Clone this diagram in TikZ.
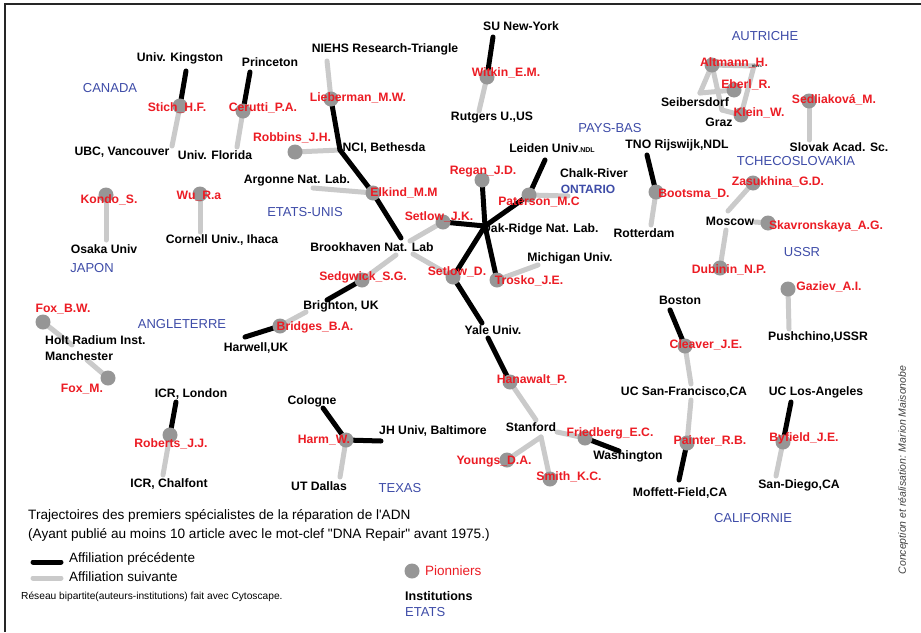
\documentclass[tikz,border=0pt]{standalone}
\usepackage{fontspec}
\setmainfont{Liberation Sans}[Ligatures=TeXOff]
\definecolor{ared}{RGB}{236,28,36}
\definecolor{cblue}{RGB}{62,76,168}
\definecolor{pgray}{RGB}{150,150,150}
\definecolor{egray}{RGB}{202,202,202}
\begin{document}
\begin{tikzpicture}[x=1pt,y=-1pt,
  pion/.style={circle, fill=pgray, minimum size=15pt, inner sep=0pt},
  prevedge/.style={draw=black, line width=5pt, line cap=round},
  nextedge/.style={draw=egray, line width=5pt, line cap=round},
  auth/.style={text=ared, font=\fontsize{12.2}{14}\selectfont\bfseries, inner sep=0pt},
  inst/.style={text=black, font=\fontsize{12.2}{14}\selectfont\bfseries, inner sep=0pt},
  ctry/.style={text=cblue, font=\fontsize{13}{15}\selectfont, inner sep=0pt},
  legtxt/.style={text=black, font=\fontsize{13.6}{15}\selectfont, inner sep=0pt, anchor=west}]
\useasboundingbox (0,0) rectangle (921,632);
\fill[white] (0,0) rectangle (921,632);
\draw[line width=2.5pt, black!85] (5,632) -- (5,4) -- (921,4);

% ---------- author circles (positions) ----------
\coordinate (stich) at (180,106);
\coordinate (cerutti) at (243,111);
\coordinate (lieberman) at (331,99);
\coordinate (robbins) at (295,152);
\coordinate (elkind) at (373,193);
\coordinate (setlowjk) at (443,222);
\coordinate (regan) at (482,180);
\coordinate (paterson) at (529,195);
\coordinate (setlowd) at (453,277);
\coordinate (trosko) at (497,280);
\coordinate (sedgwick) at (362,280);
\coordinate (bridges) at (280,326);
\coordinate (foxbw) at (43,322);
\coordinate (foxm) at (108,378);
\coordinate (kondo) at (106,195);
\coordinate (wu) at (200,194);
\coordinate (witkin) at (487,77);
\coordinate (bootsma) at (656,192);
\coordinate (altmann) at (712,65);
\coordinate (eberl) at (734,90);
\coordinate (klein) at (741,115);
\coordinate (sedliakova) at (809,101);
\coordinate (zasukhina) at (753,183);
\coordinate (skavronskaya) at (768,223);
\coordinate (dubinin) at (720,268);
\coordinate (gaziev) at (788,289);
\coordinate (cleaver) at (685,346);
\coordinate (painter) at (687,443);
\coordinate (byfield) at (783,442);
\coordinate (hanawalt) at (510,382);
\coordinate (friedberg) at (585,438);
\coordinate (youngs) at (507,460);
\coordinate (smith) at (550,479);
\coordinate (harm) at (346,440);
\coordinate (roberts) at (170,435);

% ---------- institution end points ----------
\coordinate (kingston) at (186,71);
\coordinate (ubc) at (172,146);
\coordinate (princeton) at (250,72);
\coordinate (florida) at (237,147);
\coordinate (niehs) at (327,61);
\coordinate (nci) at (340,150);
\coordinate (argonne) at (313,188);
\coordinate (bnlE) at (401,238);
\coordinate (bnlJ) at (410,241);
\coordinate (bnlD) at (413,254);
\coordinate (bnlS) at (396,255);
\coordinate (oak) at (485,226);
\coordinate (leiden) at (545,160);
\coordinate (chalk) at (568,196);
\coordinate (michigan) at (538,265);
\coordinate (yaleA) at (482,323);
\coordinate (yaleB) at (488,338);
\coordinate (brightonA) at (327,300);
\coordinate (brightonB) at (306,312);
\coordinate (harwell) at (245,337);
\coordinate (holtA) at (72,345);
\coordinate (holtB) at (87,360);
\coordinate (osaka) at (106,240);
\coordinate (cornell) at (200,232);
\coordinate (suny) at (493,37);
\coordinate (rutgers) at (479,111);
\coordinate (tno) at (647,155);
\coordinate (rotterdam) at (651,225);
\coordinate (seib) at (700,93);
\coordinate (graz) at (722,110);
\coordinate (vien) at (754,66);
\coordinate (slovak) at (809,140);
\coordinate (moscowZ) at (728,211);
\coordinate (moscowS) at (755,222);
\coordinate (moscowD) at (726,230);
\coordinate (pushchino) at (789,329);
\coordinate (boston) at (670,310);
\coordinate (sfA) at (691,384);
\coordinate (sfB) at (691,400);
\coordinate (moffett) at (679,480);
\coordinate (ucla) at (791,402);
\coordinate (sandiego) at (776,476);
\coordinate (stanA) at (536,420);
\coordinate (stanF) at (557,432);
\coordinate (stanB) at (541,437);
\coordinate (washington) at (619,451);
\coordinate (cologne) at (323,408);
\coordinate (jh) at (381,441);
\coordinate (utdallas) at (340,477);
\coordinate (icrl) at (176,402);
\coordinate (chalfont) at (163,475);

% ---------- edges: following affiliation (grey) ----------
\draw[nextedge] (stich) -- (ubc);
\draw[nextedge] (cerutti) -- (florida);
\draw[nextedge] (lieberman) -- (niehs);
\draw[nextedge] (robbins) -- (nci);
\draw[nextedge] (elkind) -- (argonne);
\draw[nextedge] (setlowjk) -- (bnlJ);
\draw[nextedge] (setlowd) -- (bnlD);
\draw[nextedge] (sedgwick) -- (bnlS);
\draw[nextedge] (paterson) -- (chalk);
\draw[nextedge] (trosko) -- (michigan);
\draw[nextedge] (bridges) -- (brightonB);
\draw[nextedge] (foxbw) -- (holtA);
\draw[nextedge] (foxm) -- (holtB);
\draw[nextedge] (kondo) -- (osaka);
\draw[nextedge] (wu) -- (cornell);
\draw[nextedge] (witkin) -- (rutgers);
\draw[nextedge] (bootsma) -- (rotterdam);
\draw[nextedge] (altmann) -- (seib);
\draw[nextedge] (altmann) -- (graz);
\draw[nextedge] (altmann) -- (vien);
\draw[nextedge] (eberl) -- (seib);
\draw[nextedge] (klein) -- (graz);
\draw[nextedge] (klein) -- (vien);
\draw[nextedge] (sedliakova) -- (slovak);
\draw[nextedge] (zasukhina) -- (moscowZ);
\draw[nextedge] (skavronskaya) -- (moscowS);
\draw[nextedge] (dubinin) -- (moscowD);
\draw[nextedge] (gaziev) -- (pushchino);
\draw[nextedge] (cleaver) -- (sfA);
\draw[nextedge] (painter) -- (sfB);
\draw[nextedge] (byfield) -- (sandiego);
\draw[nextedge] (hanawalt) -- (stanA);
\draw[nextedge] (friedberg) -- (stanF);
\draw[nextedge] (youngs) -- (stanB);
\draw[nextedge] (smith) -- (stanB);
\draw[nextedge] (harm) -- (utdallas);
\draw[nextedge] (roberts) -- (chalfont);

% ---------- edges: previous affiliation (black) ----------
\draw[prevedge] (stich) -- (kingston);
\draw[prevedge] (cerutti) -- (princeton);
\draw[prevedge] (lieberman) -- (nci);
\draw[prevedge] (elkind) -- (nci);
\draw[prevedge] (elkind) -- (bnlE);
\draw[prevedge] (setlowjk) -- (oak);
\draw[prevedge] (regan) -- (oak);
\draw[prevedge] (paterson) -- (oak);
\draw[prevedge] (paterson) -- (leiden);
\draw[prevedge] (setlowd) -- (oak);
\draw[prevedge] (trosko) -- (oak);
\draw[prevedge] (setlowd) -- (yaleA);
\draw[prevedge] (hanawalt) -- (yaleB);
\draw[prevedge] (sedgwick) -- (brightonA);
\draw[prevedge] (bridges) -- (harwell);
\draw[prevedge] (witkin) -- (suny);
\draw[prevedge] (bootsma) -- (tno);
\draw[prevedge] (cleaver) -- (boston);
\draw[prevedge] (painter) -- (moffett);
\draw[prevedge] (byfield) -- (ucla);
\draw[prevedge] (friedberg) -- (washington);
\draw[prevedge] (harm) -- (cologne);
\draw[prevedge] (harm) -- (jh);
\draw[prevedge] (roberts) -- (icrl);

% ---------- pioneer circles ----------
\foreach \p in {stich,cerutti,lieberman,robbins,elkind,setlowjk,regan,paterson,setlowd,trosko,sedgwick,bridges,foxbw,foxm,kondo,wu,witkin,bootsma,altmann,eberl,klein,sedliakova,zasukhina,skavronskaya,dubinin,gaziev,cleaver,painter,byfield,hanawalt,friedberg,youngs,smith,harm,roberts}
  \node[pion] (c-\p) at (\p) {};

% ---------- institution labels ----------
\node[inst] (lkingston) at (180,58) {Univ. Kingston};
\node[inst] (lubc) at (122,152) {UBC, Vancouver};
\node[inst] (lprinceton) at (270,62) {Princeton};
\node[inst] (lflorida) at (215,155) {Univ. Florida};
\node[inst] (lniehs) at (385,49) {NIEHS Research-Triangle};
\node[inst] (lnci) at (384,148) {NCI, Bethesda};
\node[inst] (largonne) at (297,180) {Argonne Nat. Lab.};
\node[inst] (lbnl) at (372,247) {Brookhaven Nat. Lab};
\node[inst] (loak) at (540,229) {Oak-Ridge Nat. Lab.};
\node[inst] (lleiden) at (552,148) {Leiden Univ{\fontsize{7}{8}\selectfont .NDL}};
\node[inst] (lchalk) at (594,173) {Chalk-River};
\node[inst] (lmichigan) at (570,258) {Michigan Univ.};
\node[inst] (lyale) at (493,330) {Yale Univ.};
\node[inst] (lbrighton) at (341,306) {Brighton, UK};
\node[inst] (lharwell) at (256,348) {Harwell,UK};
\node[inst, align=left, anchor=west, font=\fontsize{12.2}{16}\selectfont\bfseries] (lholt) at (45,348) {Holt Radium Inst.\\Manchester};
\node[inst] (losaka) at (104,249) {Osaka Univ};
\node[inst] (lcornell) at (222,240) {Cornell Univ., Ihaca};
\node[inst] (lsuny) at (521,26) {SU New-York};
\node[inst] (lrutgers) at (492,118) {Rutgers U.,US};
\node[inst] (ltno) at (677,145) {TNO Rijswijk,NDL};
\node[inst] (lrotterdam) at (644,233) {Rotterdam};
\node[inst] (lseib) at (695,102) {Seibersdorf};
\node[inst] (lgraz) at (719,122) {Graz};
\node[inst, font=\fontsize{4.5}{5}\selectfont\bfseries] (lvien) at (757,66) {vien.};
\node[inst] (lslovak) at (839,147) {Slovak Acad. Sc.};
\node[inst] (lmoscow) at (730,221) {Moscow};
\node[inst] (lpushchino) at (818,337) {Pushchino,USSR};
\node[inst] (lboston) at (680,300) {Boston};
\node[inst] (lsf) at (684,392) {UC San-Francisco,CA};
\node[inst] (lmoffett) at (680,493) {Moffett-Field,CA};
\node[inst] (lucla) at (816,392) {UC Los-Angeles};
\node[inst] (lsandiego) at (799,485) {San-Diego,CA};
\node[inst] (lstanford) at (531,427) {Stanford};
\node[inst] (lwashington) at (628,456) {Washington};
\node[inst] (lcologne) at (312,401) {Cologne};
\node[inst] (ljh) at (433,431) {JH Univ, Baltimore};
\node[inst] (lutdallas) at (319,486) {UT Dallas};
\node[inst] (licrl) at (191,394) {ICR, London};
\node[inst] (lchalfont) at (169,484) {ICR, Chalfont};

% ---------- author labels ----------
\node[auth] (lstich) at (177,108) {Stich\_H.F.};
\node[auth] (lcerutti) at (263,108) {Cerutti\_P.A.};
\node[auth] (llieberman) at (358,98) {Lieberman\_M.W.};
\node[auth] (lrobbins) at (292,138) {Robbins\_J.H.};
\node[auth] (lelkind) at (404,193) {Elkind\_M.M};
\node[auth] (lsetlowjk) at (439,217) {Setlow\_J.K.};
\node[auth] (lregan) at (483,172) {Regan\_J.D.};
\node[auth] (lpaterson) at (539,202) {Paterson\_M.C};
\node[auth] (lsetlowd) at (457,272) {Setlow\_D.};
\node[auth] (ltrosko) at (529,281) {Trosko\_J.E.};
\node[auth] (lsedgwick) at (363,277) {Sedgwick\_S.G.};
\node[auth] (lbridges) at (315,327) {Bridges\_B.A.};
\node[auth] (lfoxbw) at (63,309) {Fox\_B.W.};
\node[auth] (lfoxm) at (82,389) {Fox\_M.};
\node[auth] (lkondo) at (109,200) {Kondo\_S.};
\node[auth] (lwu) at (199,196) {Wu\_R.a};
\node[auth] (lwitkin) at (506,73) {Witkin\_E.M.};
\node[auth] (lbootsma) at (694,194) {Bootsma\_D.};
\node[auth] (laltmann) at (734,63) {Altmann\_H.};
\node[auth] (leberl) at (746,85) {Eberl\_R.};
\node[auth] (lklein) at (759,113) {Klein\_W.};
\node[auth] (lsedliakova) at (834,100) {Sedliaková\_M.};
\node[auth] (lzasukhina) at (778,182) {Zasukhina\_G.D.};
\node[auth] (lskavronskaya) at (826,226) {Skavronskaya\_A.G.};
\node[auth] (ldubinin) at (729,270) {Dubinin\_N.P.};
\node[auth] (lgaziev) at (829,287) {Gaziev\_A.I.};
\node[auth] (lcleaver) at (706,345) {Cleaver\_J.E.};
\node[auth] (lpainter) at (710,441) {Painter\_R.B.};
\node[auth] (lbyfield) at (804,438) {Byfield\_J.E.};
\node[auth] (lhanawalt) at (532,380) {Hanawalt\_P.};
\node[auth] (lfriedberg) at (610,433) {Friedberg\_E.C.};
\node[auth] (lyoungs) at (494,462) {Youngs\_D.A.};
\node[auth] (lsmith) at (569,477) {Smith\_K.C.};
\node[auth] (lharm) at (324,440) {Harm\_W.};
\node[auth] (lroberts) at (171,444) {Roberts\_J.J.};

% ---------- countries ----------
\node[ctry] (kcanada) at (110,88) {CANADA};
\node[ctry] (ketatsunis) at (305,212) {ETATS-UNIS};
\node[ctry] (kjapon) at (92,268) {JAPON};
\node[ctry] (kangleterre) at (182,324) {ANGLETERRE};
\node[ctry] (kpaysbas) at (610,128) {PAYS-BAS};
\node[ctry, font=\fontsize{12}{14}\selectfont\bfseries] (kontario) at (588,189) {ONTARIO};
\node[ctry] (kautriche) at (765,36) {AUTRICHE};
\node[ctry] (ktchec) at (796,161) {TCHECOSLOVAKIA};
\node[ctry] (kussr) at (802,252) {USSR};
\node[ctry] (ktexas) at (400,488) {TEXAS};
\node[ctry] (kcalif) at (753,518) {CALIFORNIE};

% ---------- legend ----------
\node[legtxt] (t1) at (28,516) {Trajectoires des premiers spécialistes de la réparation de l'ADN};
\node[legtxt] (t2) at (28,535) {(Ayant publié au moins 10 article avec le mot-clef "DNA Repair" avant 1975.)};
\coordinate (lpA) at (33,562);
\coordinate (lpB) at (61,562);
\coordinate (lnA) at (33,578);
\coordinate (lnB) at (61,578);
\draw[prevedge] (lpA) -- (lpB);
\draw[nextedge] (lnA) -- (lnB);
\node[legtxt, font=\fontsize{13.5}{15}\selectfont] (t3) at (69,559) {Affiliation précédente};
\node[legtxt, font=\fontsize{13.5}{15}\selectfont] (t4) at (69,577) {Affiliation suivante};
\node[legtxt, font=\fontsize{10.2}{12}\selectfont] (t5) at (21,597) {Réseau bipartite(auteurs-institutions) fait avec Cytoscape.};
\node[pion] (lgpion) at (412,571) {};
\node[legtxt, text=ared, font=\fontsize{13.5}{15}\selectfont] (t6) at (425,571) {Pionniers};
\node[legtxt, font=\fontsize{12.5}{15}\selectfont\bfseries] (t7) at (405,596) {Institutions};
\node[legtxt, text=cblue, font=\fontsize{13}{15}\selectfont] (t8) at (405,612) {ETATS};
\node[rotate=90, text=black!75, font=\fontsize{10.5}{12}\selectfont\itshape, inner sep=0pt] (credit) at (903,470) {Conception et réalisation: Marion Maisonobe};
\end{tikzpicture}
\end{document}
